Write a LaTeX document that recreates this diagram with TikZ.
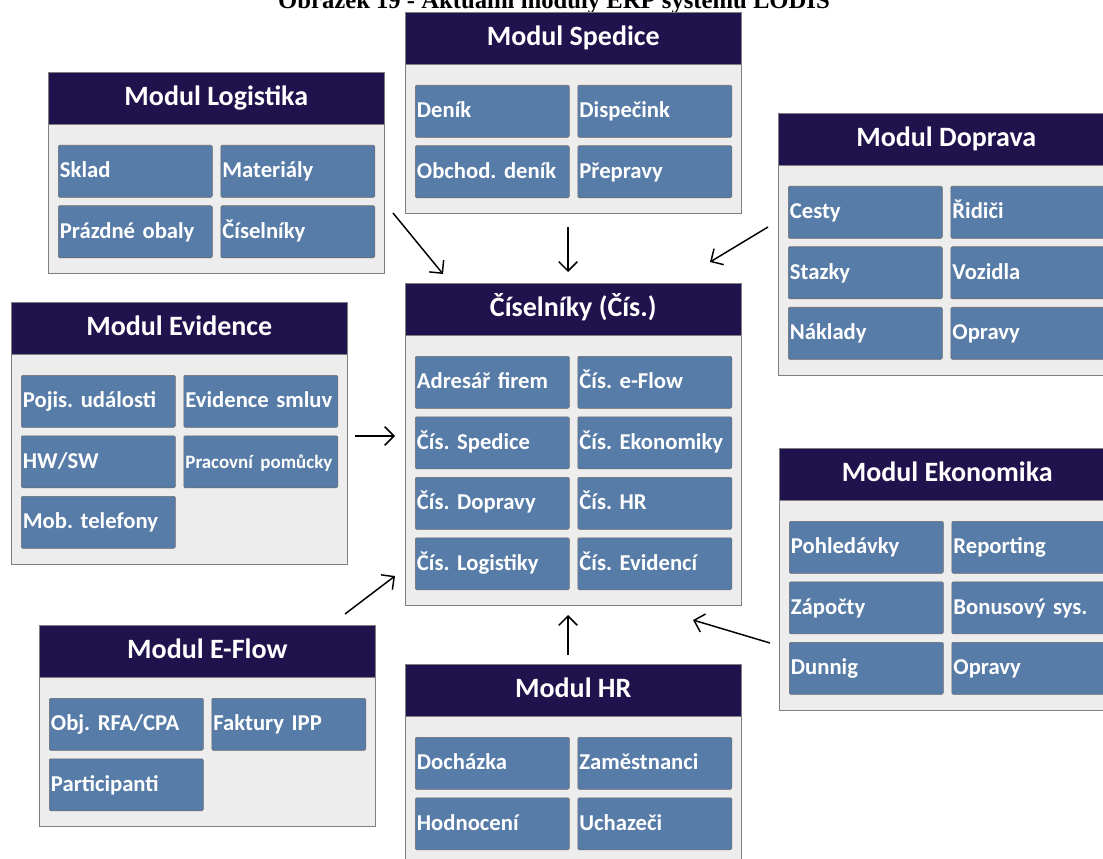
\documentclass[tikz,border=0pt]{standalone}
\usepackage{fontspec}
\setmainfont{Carlito}
\newfontfamily\captionfont{Liberation Serif}
\frenchspacing
\usepackage{tikz}
\usetikzlibrary{arrows.meta,positioning}

\definecolor{headblue}{HTML}{20124D}
\definecolor{bodygray}{HTML}{EDEDED}
\definecolor{framegray}{HTML}{7F7F7F}
\definecolor{cellblue}{HTML}{587CA8}
\definecolor{cellframe}{HTML}{6A6A6A}

\tikzset{
	modbody/.style={draw=framegray, fill=bodygray, anchor=north west, minimum width=252pt, inner sep=0pt},
	modhead/.style={draw=framegray, fill=headblue, anchor=north, minimum width=252pt, minimum height=39pt, inner sep=0pt, text height=15pt, text depth=3.8pt, text=white, font=\fontsize{21}{23}\selectfont\bfseries},
	cell/.style={draw=cellframe, fill=cellblue, anchor=north west, rounded corners=1pt, minimum height=39pt, text width=113pt, text height=12.5pt, text depth=2.7pt, inner sep=1.25pt, align=left, text=white, font=\fontsize{17}{19}\selectfont\bfseries},
	link/.style={line width=1.1pt, -{Straight Barb[length=7pt, width=14pt]}}
}

% one module: name, x, y, rows, title, cells (col/row/text)
\newcommand{\modul}[6]{%
	\node[modbody, minimum height={(80+60.5*#4)*0.75pt}] (#1) at (#2,#3) {};
	\node[modhead] (#1-head) at (#1.north) {#5};
	\foreach \c/\r/\t [count=\i] in {#6}
		\node[cell] (#1-\i) at ({#2+10+162.5*\c},{#3+73+60.5*\r}) {\t};
}

\begin{document}
\begin{tikzpicture}[x=0.75pt, y=-0.75pt]
	\useasboundingbox (0,0) rectangle (1103,859);
	\clip (0,0) rectangle (1103,859);

	\node[anchor=base, font=\captionfont\fontsize{18.5}{20}\selectfont\bfseries] (caption) at (554,9) {Obrázek 19 - Aktuální moduly ERP systému LODIS};

	\modul{spedice}{405}{12}{2}{Modul Spedice}{0/0/Deník, 1/0/Dispečink, 0/1/Obchod. deník, 1/1/Přepravy}
	\modul{logistika}{48}{72}{2}{Modul Logistika}{0/0/Sklad, 1/0/Materiály, 0/1/Prázdné obaly, 1/1/Číselníky}
	\modul{doprava}{778}{113}{3}{Modul Doprava}{0/0/Cesty, 1/0/Řidiči, 0/1/Stazky, 1/1/Vozidla, 0/2/Náklady, 1/2/Opravy}
	\modul{evidence}{11}{302}{3}{Modul Evidence}{0/0/Pojis. události, 1/0/Evidence smluv, 0/1/{HW/SW}, 1/1/{\fontsize{14.2}{16}\selectfont Pracovní pomůcky}, 0/2/Mob. telefony}
	\modul{cis}{405}{283}{4}{Číselníky (Čís.)}{0/0/Adresář firem, 1/0/Čís. e-Flow, 0/1/Čís. Spedice, 1/1/Čís. Ekonomiky, 0/2/Čís. Dopravy, 1/2/Čís. HR, 0/3/Čís. Logistiky, 1/3/Čís. Evidencí}
	\modul{ekonomika}{779}{448}{3}{Modul Ekonomika}{0/0/Pohledávky, 1/0/Reporting, 0/1/Zápočty, 1/1/Bonusový sys., 0/2/Dunnig, 1/2/Opravy}
	\modul{eflow}{39}{625}{2}{Modul E-Flow}{0/0/{Obj. RFA/CPA}, 1/0/Faktury IPP, 0/1/Participanti}
	\modul{hr}{405}{664}{2}{Modul HR}{0/0/Docházka, 1/0/Zaměstnanci, 0/1/Hodnocení, 1/1/Uchazeči}

	% arrow ends
	\coordinate (logistika-out) at (393,213);
	\coordinate (cis-in-logistika) at (443,274);
	\coordinate (spedice-out) at (568,227);
	\coordinate (cis-in-spedice) at (568,272);
	\coordinate (doprava-out) at (768,227);
	\coordinate (cis-in-doprava) at (710,262);
	\coordinate (evidence-out) at (355,436);
	\coordinate (cis-in-evidence) at (395,436);
	\coordinate (eflow-out) at (345,614);
	\coordinate (cis-in-eflow) at (395,576);
	\coordinate (hr-out) at (568,655);
	\coordinate (cis-in-hr) at (568,615);
	\coordinate (ekonomika-out) at (770,643);
	\coordinate (cis-in-ekonomika) at (693,620);

	\foreach \m in {logistika, spedice, doprava, evidence, eflow, hr, ekonomika}
		\draw[link] (\m-out) -- (cis-in-\m);
\end{tikzpicture}
\end{document}
